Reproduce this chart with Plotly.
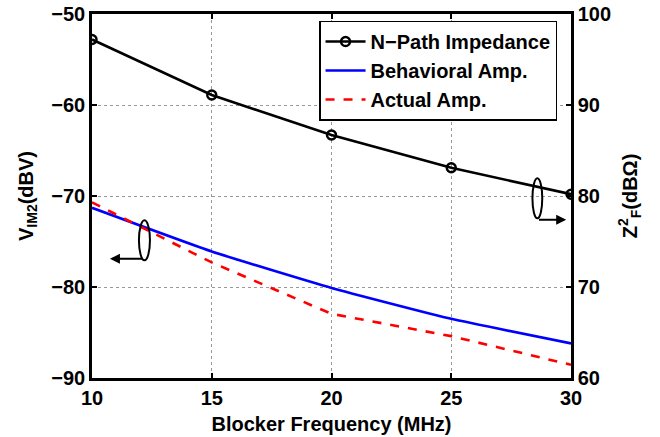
import plotly.graph_objects as go

freq = [10, 15, 20, 25, 30]
npath_impedance = [97.2, 91.1, 86.7, 83.1, 80.2]      # dBOhm, right axis
behavioral_amp = [-71.3, -76.1, -80.1, -83.5, -86.2]  # dBV, left axis
actual_amp = [-70.7, -77.3, -82.95, -85.4, -88.55]    # dBV, left axis

x_ticks = [10, 15, 20, 25, 30]
y_left_ticks = [-90, -80, -70, -60, -50]
y_right_ticks = [60, 70, 80, 90, 100]

FONT = "Liberation Sans, Arial, Helvetica, sans-serif"
TFONT = dict(size=20, family=FONT, color="black", weight="bold")

fig = go.Figure()
fig.add_trace(go.Scatter(
    x=freq, y=npath_impedance, yaxis="y2", name="N\u2212Path Impedance",
    mode="lines+markers",
    line=dict(color="black", width=2.6),
    marker=dict(symbol="circle-open", size=9, color="black", line=dict(width=2.4)),
))
fig.add_trace(go.Scatter(
    x=freq, y=behavioral_amp, name="Behavioral Amp.", mode="lines",
    line=dict(color="#0000ff", width=2.6, shape="spline", smoothing=0.4),
))
fig.add_trace(go.Scatter(
    x=freq, y=actual_amp, name="Actual Amp.", mode="lines",
    line=dict(color="#ff0000", width=2.6, dash="dash"),
))

axis_common = dict(
    showline=True, linecolor="black", linewidth=2.5,
    ticks="inside", ticklen=5, tickwidth=2, tickcolor="black",
    tickfont=TFONT, zeroline=False, automargin=False,
    ticklabeloverflow="allow",
)

fig.update_layout(
    width=660, height=437,
    margin=dict(l=92, r=89, t=14, b=59),
    paper_bgcolor="white", plot_bgcolor="white",
    font=dict(family=FONT, color="black", weight="bold"),
    showlegend=True,
    legend=dict(
        x=0.474, y=0.982, xanchor="left", yanchor="top",
        bordercolor="black", borderwidth=1.5, bgcolor="white",
        font=dict(size=20, family=FONT, color="black", weight="bold"),
        tracegroupgap=0, itemwidth=40,
    ),
    xaxis=dict(
        range=[10, 30], tickvals=x_ticks, mirror="ticks",
        showgrid=True, gridcolor="#999999", griddash="dot", gridwidth=1,
        title=dict(text="Blocker Frequency (MHz)", standoff=10, font=TFONT),
        **axis_common,
    ),
    yaxis=dict(
        range=[-90, -50], tickvals=y_left_ticks,
        showgrid=True, gridcolor="#999999", griddash="dot", gridwidth=1,
        title=dict(text="V<sub>IM2</sub>(dBV)", standoff=13, font=TFONT),
        **axis_common,
    ),
    yaxis2=dict(
        range=[60, 100], tickvals=y_right_ticks, overlaying="y", side="right",
        showgrid=False,
        title=dict(text="Z<sup>2</sup><sub>F</sub>(dB\u03a9)", standoff=13, font=TFONT),
        **axis_common,
    ),
)

# Ellipse indicators with arrows pointing to the relevant axis
fig.add_shape(type="circle", xref="x", yref="y", x0=11.96, x1=12.42, y0=-77.06, y1=-72.67,
              line=dict(color="black", width=2))
fig.add_annotation(x=10.75, y=-76.9, ax=12.19, ay=-76.9, xref="x", yref="y",
                   axref="x", ayref="y", text="", showarrow=True,
                   arrowhead=2, arrowsize=1, arrowwidth=2, arrowcolor="black")
fig.add_shape(type="circle", xref="x", yref="y", x0=28.39, x1=28.80, y0=-72.45, y1=-68.06,
              line=dict(color="black", width=2))
fig.add_annotation(x=29.8, y=-72.6, ax=28.6, ay=-72.6, xref="x", yref="y",
                   axref="x", ayref="y", text="", showarrow=True,
                   arrowhead=2, arrowsize=1, arrowwidth=2, arrowcolor="black")

fig.write_html("out.html", config={"displayModeBar": False},
               post_script="document.body.style.margin='0';")
